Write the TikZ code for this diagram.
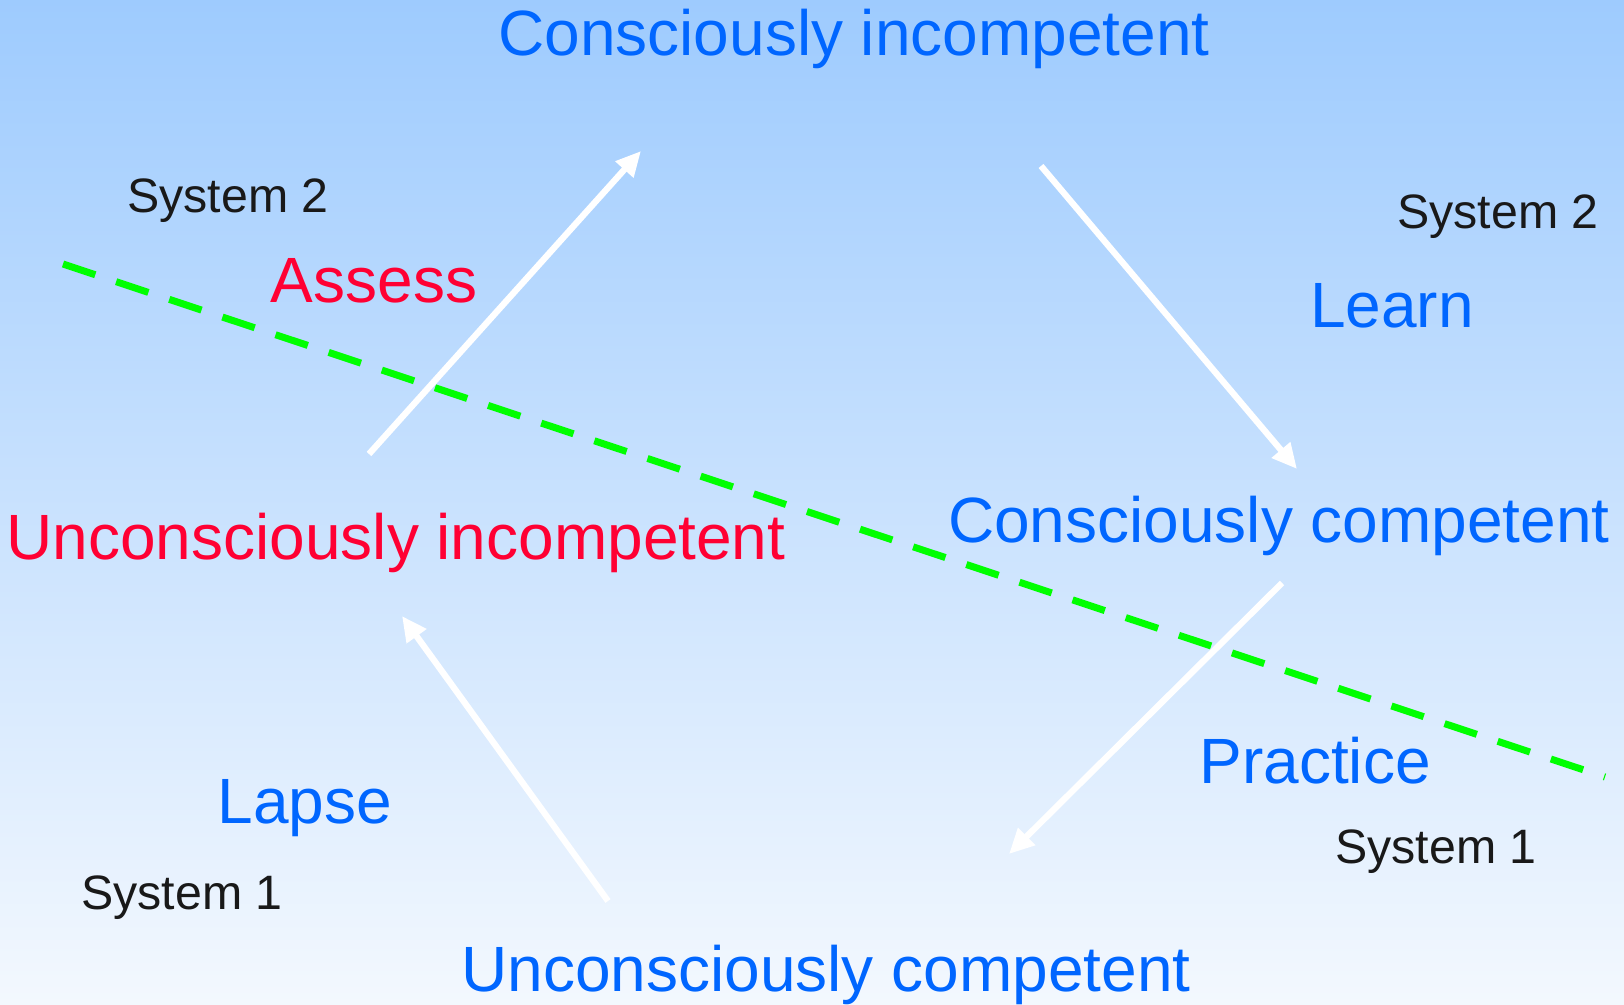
\documentclass[tikz,border=0pt]{standalone}
\usepackage{fontspec}
\setmainfont{Liberation Sans}
\usetikzlibrary{arrows.meta}
\definecolor{bgtop}{RGB}{158,203,254}
\definecolor{bgbot}{RGB}{243,248,254}
\definecolor{tblue}{RGB}{0,102,255}
\definecolor{tred}{RGB}{255,0,51}
\definecolor{tgreen}{RGB}{0,255,0}
\tikzset{
  big/.style={font=\fontsize{64}{74}\selectfont, inner sep=0pt, anchor=base},
  small/.style={font=\fontsize{48.3}{56}\selectfont, inner sep=0pt, anchor=base, text=black!90},
  bluetext/.style={big, text=tblue},
  redtext/.style={big, text=tred},
  whitearrow/.style={draw=white, line width=6.3pt, -{Triangle[length=25pt,width=23pt]}},
  divider/.style={draw=tgreen, line width=7pt, dash pattern=on 34pt off 22pt}
}
\begin{document}
\begin{tikzpicture}[x=1pt,y=-1pt]
\useasboundingbox (0,0) rectangle (1624,1004);
\shade[top color=bgtop, bottom color=bgbot] (0,0) rectangle (1624,1004);

% dashed divider
\coordinate (dA) at (63,264);
\coordinate (dB) at (1605,777);
\draw[divider] (dA) -- (dB);

% labels
\node[bluetext] (ci) at (854,55) {Consciously incompetent};
\node[bluetext] (cc) at (1279,542) {Consciously competent};
\node[bluetext] (uc) at (826,991) {Unconsciously competent};
\node[redtext]  (ui) at (396,559) {Unconsciously incompetent};

\node[redtext]  (assess)   at (374,302) {Assess};
\node[bluetext] (learn)    at (1392,327) {Learn};
\node[bluetext] (practice) at (1315,783) {Practice};
\node[bluetext] (lapse)    at (305,823) {Lapse};

\node[small] (s2l) at (228,212) {System 2};
\node[small] (s2r) at (1498,228) {System 2};
\node[small] (s1r) at (1436,863) {System 1};
\node[small] (s1l) at (182,909) {System 1};

% arrow end points
\coordinate (a1s) at (369,454);  \coordinate (a1e) at (641,151);
\coordinate (a2s) at (1041,166); \coordinate (a2e) at (1297,469);
\coordinate (a3s) at (1282,583); \coordinate (a3e) at (1009,854);
\coordinate (a4s) at (608,901);  \coordinate (a4e) at (402,616);

\draw[whitearrow] (a1s) -- (a1e);
\draw[whitearrow] (a2s) -- (a2e);
\draw[whitearrow] (a3s) -- (a3e);
\draw[whitearrow] (a4s) -- (a4e);
\end{tikzpicture}
\end{document}
